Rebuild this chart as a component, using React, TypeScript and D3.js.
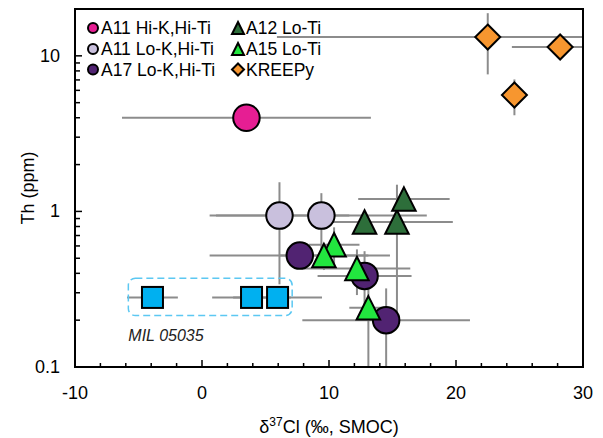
import React from 'react';
import * as d3 from 'd3';

// Th vs d37Cl
const a11HiK = [{ x: 3.5, y: 4.0, xe: 9.8, ye: 0 }];
const a11LoK = [
  { x: 6.1, y: 0.94, xe: 5.5, ye: 0.6 },
  { x: 9.4, y: 0.94, xe: 8.3, ye: 0.37 },
];
const a17 = [
  { x: 7.7, y: 0.52, xe: 7.1, ye: 0 },
  { x: 12.8, y: 0.385, xe: 3.7, ye: 0.17 },
  { x: 14.5, y: 0.2, xe: 6.6, ye: 0.12 },
];
const a12 = [
  { x: 12.8, y: 0.855, xe: 3.7, ye: 0 },
  { x: 15.35, y: 0.855, xe: 4.4, ye: 0.63 },
  { x: 15.9, y: 1.2, xe: 3.6, ye: 0 },
];
const a15 = [
  { x: 10.4, y: 0.61, xe: 2.0, ye: 0.18 },
  { x: 9.6, y: 0.52, xe: 3.5, ye: 0.1 },
  { x: 12.2, y: 0.43, xe: 4.2, ye: 0.14 },
  { x: 13.1, y: 0.24, xe: 1.5, ye: 0.2 },
];
const mil = [
  { x: -3.9, y: 0.28, xe: 2.0, ye: 0 },
  { x: 3.9, y: 0.28, xe: 3.1, ye: 0 },
  { x: 5.95, y: 0.28, xe: 3.5, ye: 0 },
];
const kreep = [
  { x: 22.5, y: 13.2, xe: 16.6, ye: 5.6 },
  { x: 28.2, y: 11.4, xe: 3.8, ye: 0 },
  { x: 24.6, y: 5.6, xe: 0, ye: 1.45 },
];

const xTicks = [-10, 0, 10, 20, 30];
const yTicks = [0.1, 1, 10];
const milBox = { x0: -5.8, x1: 7.1, y0: 0.372, y1: 0.214 };

const font = 'Liberation Sans, Arial, sans-serif';
const W = 603;
const H = 438;
const margin = { left: 75, right: 20, top: 9, bottom: 71 };

const triPath = (cx, cy, s) =>
  `M${cx},${cy - s / 2}L${cx + s / 2},${cy + s / 2}L${cx - s / 2},${cy + s / 2}Z`;
const diaPath = (cx, cy, s) =>
  `M${cx},${cy - s / 2}L${cx + s / 2},${cy}L${cx},${cy + s / 2}L${cx - s / 2},${cy}Z`;

const Marker = ({ kind, cx, cy, size, fill }) => {
  const common = { fill, stroke: '#000', strokeWidth: 2 };
  if (kind === 'circle') return <circle cx={cx} cy={cy} r={size / 2} {...common} />;
  if (kind === 'triangle') return <path d={triPath(cx, cy, size)} {...common} strokeLinejoin="miter" />;
  if (kind === 'diamond') return <path d={diaPath(cx, cy, size)} {...common} />;
  return <rect x={cx - size / 2} y={cy - size / 2} width={size} height={size} {...common} />;
};

const series = [
  { name: 'A11 Hi-K,Hi-Ti', data: a11HiK, kind: 'circle', fill: '#E61E93', size: 26.5, lsize: 10 },
  { name: 'A11 Lo-K,Hi-Ti', data: a11LoK, kind: 'circle', fill: '#C9C0DD', size: 26.5, lsize: 10 },
  { name: 'A17 Lo-K,Hi-Ti', data: a17, kind: 'circle', fill: '#512372', size: 26.5, lsize: 10 },
  { name: 'A12 Lo-Ti', data: a12, kind: 'triangle', fill: '#2D6E3A', size: 23.5, lsize: 12 },
  { name: 'A15 Lo-Ti', data: a15, kind: 'triangle', fill: '#22E63F', size: 23.5, lsize: 12 },
  { name: 'KREEPy', data: kreep, kind: 'diamond', fill: '#F7962F', size: 25, lsize: 12 },
];
const milSeries = { data: mil, kind: 'square', fill: '#00B0F0', size: 21 };

export default function App() {
  const x = d3.scaleLinear().domain([-10, 30]).range([margin.left, W - margin.right]);
  const y = d3.scaleLog().domain([0.1, 20]).range([H - margin.bottom, margin.top]);
  const [x0, x1] = x.range();
  const [yb, yt] = y.range();

  const minorX = d3.range(-10, 30.01, 2).filter(v => !xTicks.includes(v));
  const minorY = [];
  [0.1, 1, 10].forEach(base => {
    for (let k = 2; k <= 9; k++) if (base * k < 20) minorY.push(base * k);
  });

  const allSeries = [...series.slice(0, 5), milSeries, series[5]];
  const bars = [];
  allSeries.forEach((s, si) =>
    s.data.forEach((d, i) => {
      if (d.xe) bars.push({ key: `h${si}-${i}`, x1: x(d.x - d.xe), x2: x(d.x + d.xe), y1: y(d.y), y2: y(d.y) });
      if (d.ye) {
        const lo = Math.max(d.y - d.ye, 0.01);
        bars.push({ key: `v${si}-${i}`, x1: x(d.x), x2: x(d.x), y1: y(lo), y2: y(d.y + d.ye) });
      }
    })
  );

  const legendRows = [28, 49, 69.5];
  const legendCols = [{ mx: 93, tx: 101 }, { mx: 238, tx: 246 }];

  return (
    <svg width={W} height={H} style={{ position: 'absolute', left: 0, top: 0, background: '#fff' }} fontFamily={font}>
      <defs>
        <clipPath id="plot">
          <rect x={x0} y={yt} width={x1 - x0} height={yb - yt} />
        </clipPath>
      </defs>

      {/* error bars */}
      <g clipPath="url(#plot)" stroke="#8C8C8C" strokeWidth={2}>
        {bars.map(b => (
          <line key={b.key} x1={b.x1} x2={b.x2} y1={b.y1} y2={b.y2} />
        ))}
      </g>

      {/* MIL 05035 box */}
      <rect
        x={x(milBox.x0)}
        y={y(milBox.y0)}
        width={x(milBox.x1) - x(milBox.x0)}
        height={y(milBox.y1) - y(milBox.y0)}
        rx={7}
        fill="none"
        stroke="#5CC8F2"
        strokeWidth={1.5}
        strokeDasharray="7,4"
      />
      <text x={x(milBox.x0)} y={y(milBox.y1) + 25} fontSize={16} fontStyle="italic" fill="#222">
        MIL 05035
      </text>

      {/* markers */}
      <g>
        {allSeries.map((s, si) =>
          s.data.map((d, i) => (
            <Marker key={`${si}-${i}`} kind={s.kind} cx={x(d.x)} cy={y(d.y)} size={s.size} fill={s.fill} />
          ))
        )}
      </g>

      {/* frame and ticks */}
      <rect x={x0} y={yt} width={x1 - x0} height={yb - yt} fill="none" stroke="#000" strokeWidth={2} />
      <g stroke="#000" strokeWidth={1.5}>
        {xTicks.map(v => (
          <line key={`xt${v}`} x1={x(v)} x2={x(v)} y1={yb} y2={yb - 7} />
        ))}
        {minorX.map(v => (
          <line key={`xm${v}`} x1={x(v)} x2={x(v)} y1={yb} y2={yb - 4} />
        ))}
        {yTicks.map(v => (
          <line key={`yt${v}`} x1={x0} x2={x0 + 7} y1={y(v)} y2={y(v)} />
        ))}
        {minorY.map(v => (
          <line key={`ym${v}`} x1={x0} x2={x0 + 5} y1={y(v)} y2={y(v)} />
        ))}
      </g>

      {/* tick labels */}
      <g fontSize={18} fill="#000">
        {xTicks.map(v => (
          <text key={`xl${v}`} x={x(v)} y={yb + 32} textAnchor="middle">
            {v}
          </text>
        ))}
        {yTicks.map(v => (
          <text key={`yl${v}`} x={x0 - 15} y={y(v) + 6} textAnchor="end">
            {v}
          </text>
        ))}
      </g>

      {/* axis titles */}
      <text x={(x0 + x1) / 2} y={433} fontSize={18} textAnchor="middle">
        δ<tspan dy={-7} fontSize={12}>37</tspan>
        <tspan dy={7}>Cl (‰, SMOC)</tspan>
      </text>
      <text transform={`translate(34,${(yt + yb) / 2}) rotate(-90)`} fontSize={18} textAnchor="middle">
        Th (ppm)
      </text>

      {/* legend */}
      <g fontSize={17.5}>
        {series.map((s, i) => {
          const col = legendCols[Math.floor(i / 3)];
          const cy = legendRows[i % 3];
          return (
            <g key={s.name}>
              <Marker kind={s.kind} cx={col.mx} cy={cy} size={s.lsize} fill={s.fill} />
              <text x={col.tx} y={cy + 6}>
                {s.name}
              </text>
            </g>
          );
        })}
      </g>
    </svg>
  );
}
